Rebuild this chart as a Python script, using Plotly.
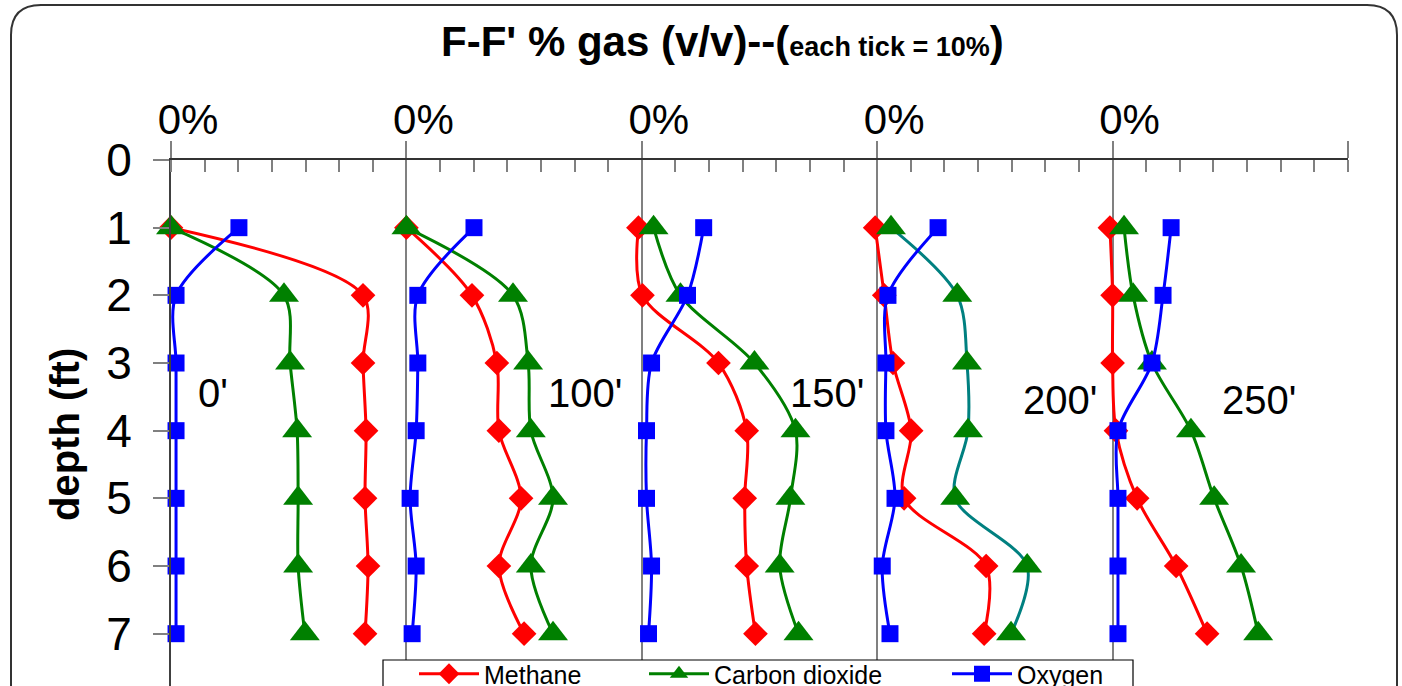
import plotly.graph_objects as go

# Soil-gas profiles along transect F-F'
depth = [1, 2, 3, 4, 5, 6, 7]
locations = ["0'", "100'", "150'", "200'", "250'"]

# % gas (v/v) at each depth, one list per location
methane = [
    [0.0, 57.1, 57.1, 58.0, 57.7, 58.6, 57.7],
    [0.0, 19.5, 26.9, 27.5, 34.1, 27.5, 35.0],
    [-1.0, 0.2, 22.8, 31.2, 30.6, 31.2, 33.8],
    [-0.6, 2.1, 4.7, 10.1, 8.0, 32.4, 31.8],
    [-0.8, 0.0, 0.0, 1.0, 7.3, 18.9, 28.1],
]
carbon_dioxide = [
    [0.0, 33.6, 35.4, 37.5, 37.8, 37.8, 39.8],
    [0.0, 31.7, 36.2, 37.0, 43.6, 37.0, 43.6],
    [3.5, 11.5, 33.5, 45.7, 44.2, 41.0, 46.6],
    [4.1, 23.8, 26.7, 27.0, 23.2, 44.6, 39.8],
    [3.4, 6.1, 11.7, 23.3, 30.2, 38.2, 43.3],
]
oxygen = [
    [20.2, 1.5, 1.5, 1.5, 1.5, 1.5, 1.5],
    [20.1, 3.4, 3.4, 2.9, 1.1, 2.9, 1.7],
    [18.4, 13.6, 2.9, 1.4, 1.4, 2.9, 2.0],
    [18.1, 3.2, 2.6, 2.6, 5.3, 1.5, 3.8],
    [17.4, 15.0, 11.7, 1.6, 1.6, 1.6, 1.6],
]

# each profile is shifted right by 70 % (7 ticks of 10 %)
GROUP_STEP = 70
X_MAX = 350

FONT = "Arial, 'Liberation Sans', sans-serif"

# figure / plot-area geometry in pixels
W, H = 1402, 686
ML, MR, MT, MB = 171, 54, 160, 0
PW, PH = W - ML - MR, H - MT - MB
PX_PER_FT = 67.67
Y_BOTTOM = PH / PX_PER_FT


def px(x):
    return (x - ML) / PW


def py(y):
    return (H - MB - y) / PH


# name, values, colour, marker, marker size, legend id, legend left edge (px)
gases = [
    ("Methane", methane, "#FF0000", "diamond", 19, "legend", 414),
    ("Carbon dioxide", carbon_dioxide, "#008000", "triangle-up", 26, "legend2", 644),
    ("Oxygen", oxygen, "#0000FF", "square", 17, "legend3", 947),
]

fig = go.Figure()
for name, series, colour, symbol, msize, leg, _ in gases:
    for k, loc in enumerate(locations):
        lc = colour
        if name == "Carbon dioxide" and loc == "200'":
            lc = "#008080"
        fig.add_trace(go.Scatter(
            x=[v + k * GROUP_STEP for v in series[k]],
            y=depth,
            mode="lines+markers",
            name=name,
            legendgroup=name,
            legend=leg,
            showlegend=(k == 0),
            line=dict(color=lc, width=3, shape="spline", smoothing=0.9),
            marker=dict(symbol=symbol, size=msize, color=colour,
                        line=dict(width=0)),
            cliponaxis=False,
        ))

major = list(range(0, X_MAX + 1, GROUP_STEP))
fig.update_xaxes(
    side="top",
    range=[0, X_MAX],
    tickmode="array",
    tickvals=major,
    ticktext=["0%" if v < X_MAX else "" for v in major],
    ticks="outside", ticklen=17, tickwidth=1.5, tickcolor="#808080",
    tickfont=dict(family=FONT, size=42, color="#000"),
    ticklabelstandoff=-10,
    ticklabelshift=17,
    showgrid=True, gridcolor="#808080", gridwidth=1.5,
    showline=True, linecolor="#333333", linewidth=2,
    minor=dict(ticks="inside", ticklen=12, tickwidth=1.5,
               tickcolor="#808080", dtick=10, showgrid=False),
    zeroline=False,
)
fig.update_yaxes(
    range=[Y_BOTTOM, 0],
    tickmode="array",
    tickvals=list(range(0, 8)),
    ticks="outside", ticklen=16, tickwidth=1.5, tickcolor="#808080",
    tickfont=dict(family=FONT, size=46, color="#000"),
    ticklabelstandoff=12,
    showgrid=False,
    showline=True, linecolor="#404040", linewidth=2,
    zeroline=False,
)

annotations = [
    # chart title
    dict(text="<b>F-F' % gas (v/v)--(<span style='font-size:27px'>each tick = 10%</span>)</b>",
         x=px(722), y=py(42), xref="paper", yref="paper",
         showarrow=False, font=dict(family=FONT, size=42, color="#000"),
         xanchor="center", yanchor="middle"),
    # vertical axis title
    dict(text="<b>depth (ft)</b>", x=px(65), y=py(435), xref="paper", yref="paper",
         textangle=-90, showarrow=False,
         font=dict(family=FONT, size=40, color="#000"),
         xanchor="center", yanchor="middle"),
]

# location labels beside each profile
label_pos = [(12.5, 3.45), (123.0, 3.45), (195.0, 3.45), (264.5, 3.55), (323.5, 3.55)]
for loc, (lx, ly) in zip(locations, label_pos):
    annotations.append(dict(
        text=loc, x=lx, y=ly, xref="x", yref="y", showarrow=False,
        font=dict(family=FONT, size=40, color="#000"),
        xanchor="center", yanchor="middle",
    ))

# rounded outer frame, open at the bottom edge of the page
r = 30
L, R, T, B = 11, 1397, 5, 740
frame = (f"M {px(L)} {py(B)} L {px(L)} {py(T + r)} "
         f"Q {px(L)} {py(T)} {px(L + r)} {py(T)} "
         f"L {px(R - r)} {py(T)} "
         f"Q {px(R)} {py(T)} {px(R)} {py(T + r)} "
         f"L {px(R)} {py(B)}")

shapes = [
    dict(type="path", path=frame, xref="paper", yref="paper",
         line=dict(color="#333333", width=2), layer="below"),
    # legend box (runs past the bottom of the page)
    dict(type="rect", xref="paper", yref="paper",
         x0=px(383), x1=px(1133), y0=py(740), y1=py(660),
         fillcolor="white", line=dict(color="#000000", width=1.2), layer="above"),
]


def legend_at(left):
    return dict(
        orientation="h",
        x=px(left), y=py(651), xanchor="left", yanchor="top",
        bgcolor="rgba(0,0,0,0)", borderwidth=0,
        font=dict(family=FONT, size=25, color="#000"),
        itemwidth=60,
    )


fig.update_layout(
    width=W, height=H,
    margin=dict(l=ML, r=MR, t=MT, b=MB, autoexpand=False),
    paper_bgcolor="white", plot_bgcolor="white",
    font=dict(family=FONT, color="#000"),
    annotations=annotations,
    shapes=shapes,
    legend=legend_at(gases[0][6]),
    legend2=legend_at(gases[1][6]),
    legend3=legend_at(gases[2][6]),
)

fig.write_html("out.html")
